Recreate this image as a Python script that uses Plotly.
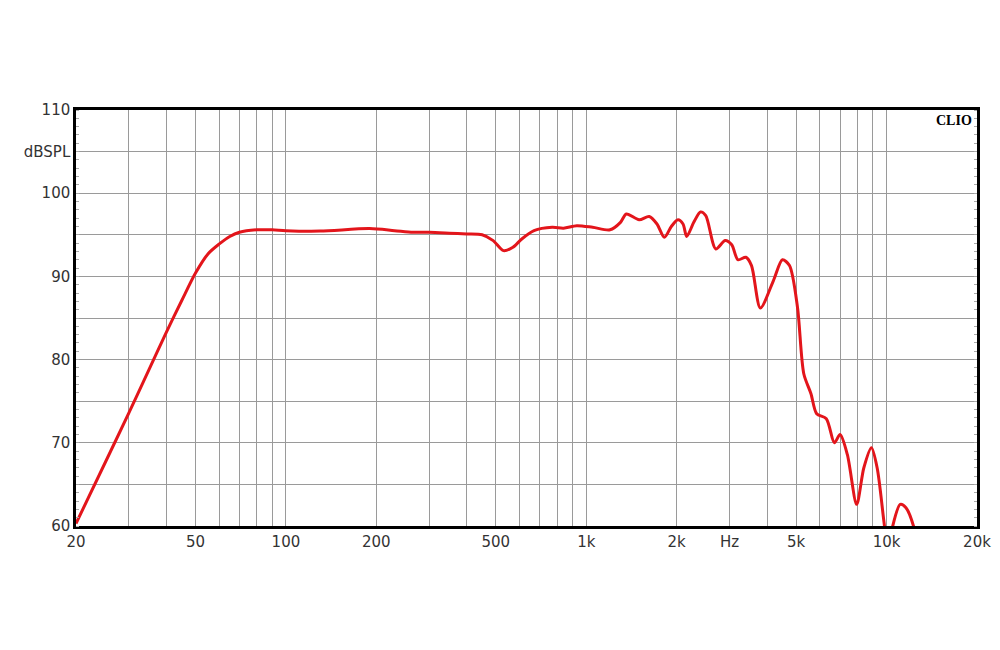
import plotly.graph_objects as go

# Frequency response (Hz, dBSPL)
freq_hz = [20, 25, 30, 35, 40, 45, 50, 55, 60, 65, 70, 80, 90, 100, 130, 190, 230, 265, 300,
           350, 400, 450, 490, 530, 570, 610, 670, 770, 840, 930, 1050, 1200, 1300, 1360,
           1500, 1620, 1720, 1820, 1920, 2020, 2100, 2160, 2280, 2400, 2500, 2700, 2900,
           3050, 3200, 3400, 3550, 3800, 4200, 4500, 4750, 5050, 5300, 5600, 5850, 6300,
           6700, 7000, 7400, 7950, 8400, 8900, 9300, 9800, 10100, 10400, 11100, 11600,
           12400, 13000]
spl_db = [60.3, 67.6, 73.6, 78.8, 83.3, 87.1, 90.4, 92.7, 93.9, 94.8, 95.3, 95.6, 95.6, 95.5,
          95.45, 95.75, 95.5, 95.3, 95.3, 95.2, 95.1, 95.0, 94.3, 93.1, 93.5, 94.5, 95.5,
          95.9, 95.8, 96.1, 95.9, 95.6, 96.5, 97.5, 96.8, 97.2, 96.3, 94.7, 96.0, 96.8,
          96.3, 94.8, 96.5, 97.75, 97.3, 93.3, 94.3, 93.8, 92.0, 92.3, 91.3, 86.2, 89.5,
          92.0, 91.3, 86.3, 78.3, 75.9, 73.5, 72.9, 70.0, 71.0, 68.6, 62.6, 67.0, 69.4,
          67.0, 60.5, 57.0, 59.5, 62.6, 62.2, 59.5, 55.0]

# Axis ticks / labels
x_grid = [20, 30, 40, 50, 60, 70, 80, 90, 100, 200, 300, 400, 500, 600, 700, 800, 900,
          1000, 2000, 3000, 4000, 5000, 6000, 7000, 8000, 9000, 10000, 20000]
x_labels = {20: "20", 50: "50", 100: "100", 200: "200", 500: "500", 1000: "1k",
            2000: "2k", 3000: "Hz", 5000: "5k", 10000: "10k", 20000: "20k"}
y_grid = [60, 65, 70, 75, 80, 85, 90, 95, 100, 105, 110]
y_labels = {60: "60", 70: "70", 80: "80", 90: "90", 100: "100", 105: "dBSPL", 110: "110"}

fig = go.Figure()
fig.add_trace(go.Scatter(
    x=freq_hz, y=spl_db, mode="lines",
    line=dict(color="#e3151b", width=3, shape="spline", smoothing=0.8),
    hoverinfo="x+y", showlegend=False))

tick_font = dict(family="DejaVu Sans, Verdana, sans-serif", size=15, color="#333333")

# page body has an 8px margin, so margins compensate to place the plot at 76..977 x 110..526
fig.update_layout(
    width=1000, height=650,
    margin=dict(l=68, r=31, t=102, b=132),
    paper_bgcolor="white", plot_bgcolor="white",
    xaxis=dict(
        type="log", range=[1.30103, 4.30103],
        tickmode="array", tickvals=x_grid,
        ticktext=[x_labels.get(v, "") for v in x_grid],
        showgrid=True, gridcolor="#9a9a9a", gridwidth=1,
        showline=True, linecolor="black", linewidth=2.5, mirror=True,
        ticks="", tickfont=tick_font, zeroline=False,
    ),
    yaxis=dict(
        range=[60, 110],
        tickmode="array", tickvals=y_grid,
        ticktext=[y_labels.get(v, "") for v in y_grid],
        showgrid=True, gridcolor="#9a9a9a", gridwidth=1,
        showline=True, linecolor="black", linewidth=2.5, mirror="allticks",
        ticks="", tickfont=tick_font, zeroline=False,
        minor=dict(dtick=1, ticks="inside", ticklen=3, tickcolor="#aaaaaa",
                   tickwidth=1, showgrid=False),
    ),
)

fig.add_annotation(
    text="<b>CLIO</b>", xref="paper", yref="paper", x=0.997, y=0.997,
    xanchor="right", yanchor="top", showarrow=False,
    font=dict(family="Liberation Serif, DejaVu Serif, serif", size=14, color="black"))

fig.write_html("out.html")
